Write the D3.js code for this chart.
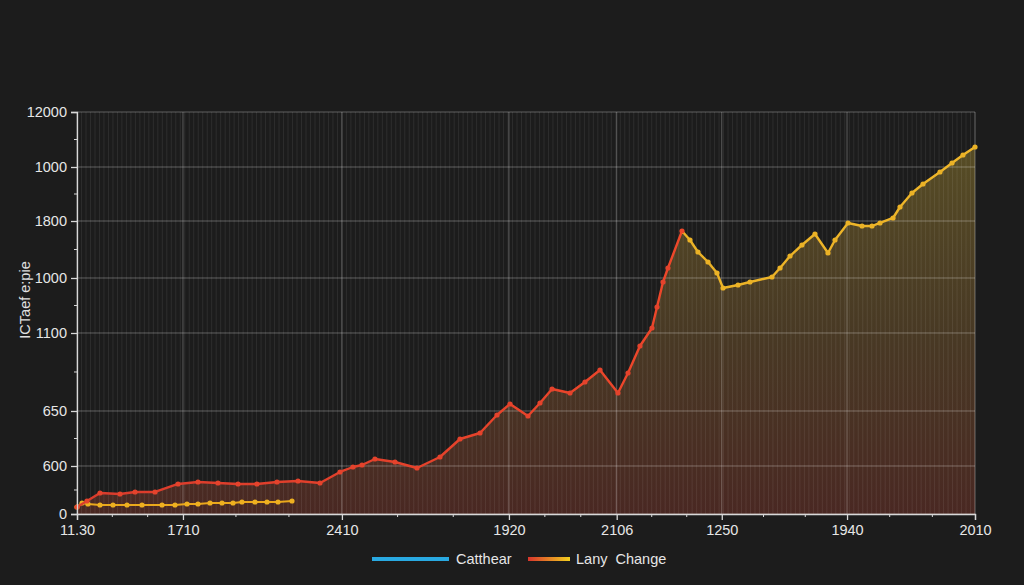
<!DOCTYPE html>
<html><head><meta charset="utf-8">
<script src="https://cdn.jsdelivr.net/npm/d3@7"></script>
<style>
body{margin:0;background:#1c1c1c;}
text{font-family:"Liberation Sans",Arial,Helvetica,sans-serif;}
</style>
</head><body><svg id="c" width="1024" height="585"></svg>
<script>
// ---- data (x in plot units 0..100, y in axis units 0..12000) ----
const mainX = [0,1.11,2.56,4.79,6.46,8.69,11.25,13.47,15.70,17.93,20.04,22.27,24.61,27.06,29.29,30.73,31.74,33.18,35.41,37.86,40.42,42.65,44.88,46.77,48.22,50.22,51.56,52.90,54.90,56.57,58.24,60.24,61.36,62.69,64.03,64.59,65.26,65.81,67.37,68.26,69.15,70.27,71.27,71.94,73.61,74.94,77.39,78.29,79.40,80.73,82.18,83.63,84.41,85.86,87.42,88.53,89.42,90.87,91.65,92.98,94.21,96.10,97.44,98.66,100];
const mainY = [209,388,627,597,657,657,896,955,925,896,896,955,985,925,1254,1403,1463,1642,1552,1373,1701,2239,2418,2955,3284,2925,3313,3731,3612,3940,4299,3612,4209,5015,5552,6179,6925,7343,8448,8179,7821,7522,7194,6746,6836,6925,7075,7343,7701,8030,8358,7791,8179,8687,8597,8597,8687,8836,9164,9582,9851,10209,10478,10716,10955];
const subX = [0,0.56,1.22,2.56,4.01,5.57,7.24,9.47,10.91,12.25,13.47,14.81,16.15,17.37,18.37,19.82,21.16,22.38,23.94];
const subY = [209,328,299,269,269,269,269,269,269,299,299,328,328,328,358,358,358,358,388];
const xTickValues = [0,11.8,29.5,48.1,60.1,71.8,85.75,100];
const xTickLabels = ["11.30","1710","2410","1920","2106","1250","1940","2010"];
const yTickValues = [0,1433,3075,5403,7045,8746,10358,12000];
const yTickLabels = ["0","600","650","1100","1000","1800","1000","12000"];
const legendLabels = ["Catthear","Lany  Change"];
const yTitle = "ICTaef e:pie";
const splitX = 67.37; // where the line colour turns from red to yellow

// ---- layout ----
const svg = d3.select("#c");
const W = 1024, H = 585;
const m = {left:77, right:49, top:112, bottom:71};
const x = d3.scaleLinear([0,100],[m.left, W-m.right]);
const y = d3.scaleLinear([0,12000],[H-m.bottom, m.top]);
const RED = "#e4432c", YEL = "#ebb226";

const defs = svg.append("defs");
const ag = defs.append("linearGradient").attr("id","areaGrad")
  .attr("gradientUnits","userSpaceOnUse").attr("x1",0).attr("x2",0)
  .attr("y1",y(12000)).attr("y2",y(0));
ag.append("stop").attr("offset",0).attr("stop-color","rgb(200,175,55)").attr("stop-opacity",0.36);
ag.append("stop").attr("offset",0.55).attr("stop-color","rgb(175,125,55)").attr("stop-opacity",0.3);
ag.append("stop").attr("offset",1).attr("stop-color","rgb(170,65,48)").attr("stop-opacity",0.32);

const lg = defs.append("linearGradient").attr("id","lineGrad")
  .attr("gradientUnits","userSpaceOnUse").attr("x1",x(0)).attr("x2",x(100)).attr("y1",0).attr("y2",0);
const so = splitX/100;
lg.append("stop").attr("offset",0).attr("stop-color","#d93b2c");
lg.append("stop").attr("offset",so).attr("stop-color","#ee472a");
lg.append("stop").attr("offset",so).attr("stop-color",YEL);
lg.append("stop").attr("offset",1).attr("stop-color","#f0b72a");

const legG = defs.append("linearGradient").attr("id","legGrad");
legG.append("stop").attr("offset",0).attr("stop-color","#d8352c");
legG.append("stop").attr("offset",1).attr("stop-color","#f2cf1f");

const main = mainX.map((v,i)=>({x:v,y:mainY[i]}));
const sub = subX.map((v,i)=>({x:v,y:subY[i]}));

// area
svg.append("path").datum(main)
  .attr("d", d3.area().x(d=>x(d.x)).y0(y(0)).y1(d=>y(d.y)))
  .attr("fill","url(#areaGrad)");

// minor vertical grid
svg.append("g").selectAll("line").data(d3.range(0,100.001,0.5)).join("line")
  .attr("x1",d=>x(d)).attr("x2",d=>x(d)).attr("y1",y(0)).attr("y2",y(12000))
  .attr("stroke","rgba(255,255,255,0.08)").attr("stroke-width",1);

// major grid
svg.append("g").selectAll("line").data(xTickValues).join("line")
  .attr("x1",d=>x(d)).attr("x2",d=>x(d)).attr("y1",y(0)).attr("y2",y(12000))
  .attr("stroke","rgba(255,255,255,0.28)");
svg.append("g").selectAll("line").data(yTickValues).join("line")
  .attr("x1",x(0)).attr("x2",x(100)).attr("y1",d=>y(d)).attr("y2",d=>y(d))
  .attr("stroke","rgba(255,255,255,0.3)");

// sub series
svg.append("path").datum(sub)
  .attr("d", d3.line().x(d=>x(d.x)).y(d=>y(d.y)))
  .attr("fill","none").attr("stroke","#eaa81c").attr("stroke-width",2.2);
svg.append("g").selectAll("circle").data(sub).join("circle")
  .attr("cx",d=>x(d.x)).attr("cy",d=>y(d.y)).attr("r",2.6).attr("fill","#eeb020");

// main series
svg.append("path").datum(main)
  .attr("d", d3.line().x(d=>x(d.x)).y(d=>y(d.y)))
  .attr("fill","none").attr("stroke","url(#lineGrad)").attr("stroke-width",2.4).attr("stroke-linejoin","round");
svg.append("g").selectAll("circle").data(main).join("circle")
  .attr("cx",d=>x(d.x)).attr("cy",d=>y(d.y)).attr("r",2.6)
  .attr("fill",d=> d.x < splitX ? RED : (d.x===splitX ? "#ee472a" : YEL));

// axes
const AX = "#d8d8d8";
const yAx = svg.append("g").attr("transform",`translate(${x(0)},0)`)
  .call(d3.axisLeft(y).tickValues(yTickValues).tickFormat((d,i)=>yTickLabels[i]).tickSize(6).tickPadding(4));
const xAx = svg.append("g").attr("transform",`translate(0,${y(0)})`)
  .call(d3.axisBottom(x).tickValues(xTickValues).tickFormat((d,i)=>xTickLabels[i]).tickSize(6).tickPadding(5));
[yAx,xAx].forEach(g=>{
  g.selectAll("path,line").attr("stroke",AX).attr("stroke-width",1.3);
  g.selectAll("text").attr("fill","#e6e6e6").attr("font-size",14.5);
});
// minor y ticks
const yMinor = d3.pairs(yTickValues).map(([a,b])=>(a+b)/2);
svg.append("g").selectAll("line").data(yMinor).join("line")
  .attr("x1",x(0)-3).attr("x2",x(0)).attr("y1",d=>y(d)).attr("y2",d=>y(d))
  .attr("stroke",AX);
// minor x ticks
const xMinor = d3.pairs(xTickValues).flatMap(([a,b])=>[a+(b-a)/3, a+2*(b-a)/3]);
svg.append("g").selectAll("line").data(xMinor).join("line")
  .attr("x1",d=>x(d)).attr("x2",d=>x(d)).attr("y1",y(0)).attr("y2",y(0)+3)
  .attr("stroke",AX);

// y title
svg.append("text").attr("transform",`translate(30,300) rotate(-90)`)
  .attr("text-anchor","middle").attr("fill","#e0e0e0").attr("font-size",14.5).text(yTitle);

// legend
svg.append("rect").attr("x",372).attr("y",557).attr("width",77).attr("height",4).attr("fill","#29a9e1");
svg.append("text").attr("x",456).attr("y",564).attr("fill","#e6e6e6").attr("font-size",14.5).text(legendLabels[0]);
svg.append("rect").attr("x",528).attr("y",557).attr("width",42).attr("height",4).attr("fill","url(#legGrad)");
svg.append("text").attr("x",576).attr("y",564).attr("fill","#e6e6e6").attr("font-size",14.5)
  .attr("xml:space","preserve").style("white-space","pre").text(legendLabels[1]);
</script></body></html>
